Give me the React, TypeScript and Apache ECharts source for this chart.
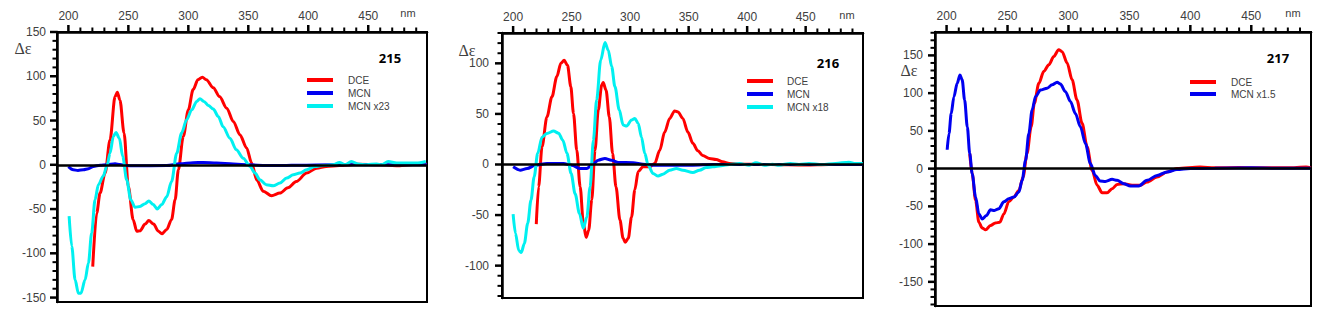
import React, { useEffect, useRef } from "react";
import * as echarts from "echarts";

// ---------- tick values ----------
const xMajor = [200, 250, 300, 350, 400, 450];
const xMinor = [210, 220, 230, 240, 260, 270, 280, 290, 310, 320, 330, 340, 360, 370, 380, 390, 410, 420, 430, 440, 460, 470, 480, 490];
const yMajor1 = [-150, -100, -50, 0, 50, 100, 150];
const yMinor1 = [-140, -130, -120, -110, -90, -80, -70, -60, -40, -30, -20, -10, 10, 20, 30, 40, 60, 70, 80, 90, 110, 120, 130, 140];
const yMajor2 = [-100, -50, 0, 50, 100];
const yMinor2 = [-130, -120, -110, -90, -80, -70, -60, -40, -30, -20, -10, 10, 20, 30, 40, 60, 70, 80, 90, 110, 120, 130];
const yMajor3 = [-150, -100, -50, 0, 50, 100, 150];
const yMinor3 = [-180, -170, -160, -140, -130, -120, -110, -90, -80, -70, -60, -40, -30, -20, -10, 10, 20, 30, 40, 60, 70, 80, 90, 110, 120, 130, 140, 160, 170, 180];

// ---------- panel 215 ----------
const p1DceX = [220.3, 223.6, 226.4, 230.6, 234.7, 238.9, 240.8, 243, 246.4, 250, 254, 257, 259.7, 264, 267, 271, 275, 278, 282, 286, 289, 291.7, 295.8, 300, 304, 308, 311.7, 315, 320.8, 326, 332, 337.5, 343, 348.6, 352.8, 357, 362.5, 369.4, 376.4, 383, 390, 398.6, 407, 415, 426, 440, 460, 475, 490, 499];
const p1DceY = [-115, -54.6, -32, -9.4, 28, 77, 82, 73, 36, -24.5, -62, -75, -74.6, -67, -63, -67, -75, -78, -73, -62, -39.5, -5.6, 32, 62, 85, 96, 99, 96, 87, 77, 64, 49, 34, 19, 2, -17, -30, -35, -32, -26, -19, -9.4, -3.8, -1.9, -0.8, 0.5, 0, -1, 0.5, 0.5];
const p1McnX = [200, 204, 208, 212.5, 216.7, 220.8, 226.4, 232, 238.9, 243, 248.6, 254, 282, 293, 304, 312.5, 323.6, 337.5, 351, 365, 379, 393, 420, 460, 499];
const p1McnY = [-2, -5.6, -6.4, -5.6, -4.5, -1.9, -0.4, 0, 1.1, 0.4, -0.8, -1.1, -0.8, 1.1, 2.3, 2.6, 1.9, 0.8, 0, -0.8, -0.8, -0.4, 0, 0, 0];
const p1McnScX = [200.6, 202.8, 205.6, 208.3, 210.5, 213.9, 216.7, 219.4, 222.2, 225, 229, 232, 234.7, 237.5, 239.7, 242.5, 245.3, 248.6, 252, 255.6, 259.7, 263.9, 267, 270.8, 274, 277.8, 282, 286, 290.3, 294.4, 298.6, 302.8, 307, 309.7, 313, 316.7, 320.8, 325, 329, 334.7, 340, 345.8, 351.4, 355.6, 359.7, 365, 370.8, 376.4, 382, 387.5, 393, 398.6, 405.6, 412.5, 420.8, 426, 430.6, 436, 441.7, 448.6, 457, 461, 466.7, 473.6, 482, 490, 498];
const p1McnScY = [-58, -92, -130, -145, -145, -130, -111, -77, -39.5, -22.6, -13, -2, 13, 32, 36.5, 30, 9.4, -17, -39.5, -48, -47, -44, -41, -45, -50, -45, -36, -19, 13, 36, 51, 62, 71.6, 74.6, 71.6, 67, 63, 54.6, 43, 30, 17, 7.5, -1.9, -9.4, -17, -22.6, -23.7, -20.7, -15, -11.3, -9.4, -5.6, -1.9, -0.8, 0, 2.6, 0, 3.8, 0.8, 0, 1, 0, 3.8, 1.9, 1.9, 1.9, 3.8];

// ---------- panel 216 ----------
const p2DceX = [219.8, 221.8, 224.7, 228.9, 233.2, 237.4, 240.8, 243.6, 246.5, 249.3, 251.6, 254.4, 257.3, 260, 262.4, 264.6, 267.2, 270, 272.8, 275.7, 277, 279.4, 282.2, 285, 287.9, 291.3, 294, 295.8, 298.4, 301.2, 304, 306.9, 311, 316.8, 321, 325.3, 329.5, 333.8, 338, 340.9, 345, 349.4, 353.6, 357.9, 362, 367.8, 373.5, 379, 384.8, 393.3, 420, 450, 470, 499];
const p2DceY = [-59, -22, 17.5, 47, 67, 87, 100, 103, 98, 77, 50.5, 14, -22, -58, -72, -65, -35, 14, 54, 78.5, 81, 73.6, 47, 11, -22, -55, -73, -77, -73, -52, -25, -7, -2.3, -2.3, 1, 14, 32, 45.5, 53, 52, 45.5, 32, 21, 13.5, 9, 6, 5, 2.6, 1, 0.3, 0, -0.5, 0, 0];
const p2McnX = [200, 206, 212, 219, 229, 243, 250, 257.3, 263, 267, 272.8, 278.5, 284, 290, 302.6, 311, 322.4, 336.6, 353.6, 370.6, 420, 499];
const p2McnY = [-2.3, -5.6, -4, -0.7, 1, 1, -0.7, -4, -4, -0.7, 4.3, 6, 4.3, 2, 1.7, 0.3, -0.7, -0.7, -0.7, 0, 0, 0];
const p2McnScX = [200, 202, 204.8, 207, 209.6, 212.5, 215.3, 218, 221, 224.7, 228.9, 234.6, 238.8, 242.5, 246, 249.6, 253, 256.7, 260, 263, 265.8, 268.6, 271.4, 274.8, 278.5, 281.3, 284.2, 287, 290.7, 294, 297, 301.2, 304, 306.9, 309.7, 312.5, 315.4, 319.6, 323.9, 328, 333.8, 339.5, 345, 353.6, 359.3, 365, 370.6, 377.7, 384.8, 393.3, 401.8, 407.5, 414.6, 421.7, 427.3, 437, 444.3, 452.8, 464, 475.5, 487, 492.5, 498.8];
const p2McnScY = [-49, -68, -85, -87, -78, -58, -35, -12, 11, 27, 30.7, 33, 31, 24, 11, -9, -29, -48.5, -63, -52, -22, 24, 64, 103, 120.5, 113, 97, 77, 54, 39, 38, 44, 45.5, 40.6, 27, 11, -0.7, -9, -11.5, -9.6, -5.6, -4, -5.6, -8, -5.6, -3, -2.3, -1.3, 0, 1, -0.7, 1.7, -0.7, 0.3, -0.7, 1, 0, 1, 0, 1, 2.3, 1, 1];

// ---------- panel 217 ----------
const p3DceX = [219, 221, 223.8, 226.5, 229.2, 232, 236, 240, 243.7, 247, 251, 255.2, 259.3, 262.8, 266, 269.4, 272, 275.7, 279.8, 283.9, 288, 292, 294.8, 298.9, 303, 307, 311.2, 315.3, 319.4, 323.5, 327.6, 331.7, 335.8, 339.9, 345.4, 352.2, 359, 364.5, 372.7, 380.9, 389, 408, 420, 440, 460, 480, 495, 499];
const p3DceY = [20, -6.7, -42, -71, -78.6, -81, -75.5, -72, -71, -60, -44, -37.7, -29, -11, 20, 55.5, 86.5, 113, 129, 137.6, 148.7, 157.6, 155, 140, 117.6, 91, 60, 29, -2.2, -22, -32, -32, -26.6, -21, -20, -22, -22, -17.7, -11, -4.4, 0, 2, 1, 1.5, 1, 1, 2, 1];
const p3McnX = [200.5, 202, 203.8, 206, 208.7, 211, 212.8, 214.8, 217, 219, 221, 223.8, 226.5, 229.2, 232.8, 236, 239.3, 242.9, 247, 251, 255.2, 259.3, 262, 264.8, 267.5, 270.2, 273, 277, 282.5, 286.6, 290.7, 293.4, 297.5, 301.6, 305.7, 309.8, 314, 318, 322, 326, 330.3, 335.8, 339.9, 345.4, 350.8, 357.7, 364.5, 372.7, 380.9, 389, 400, 420, 450, 470, 499];
const p3McnY = [25, 46.6, 73, 95, 113, 124, 117.6, 91, 55.5, 20, -6.7, -37.7, -60, -66.6, -62, -54.6, -55.5, -53, -44, -40, -37.7, -31, -15.5, 11, 46.6, 77.7, 95.4, 104, 106.5, 111, 114.5, 112, 102, 89, 73, 55.5, 33, 6.7, -9, -16.4, -16.9, -14.2, -15.5, -20, -23, -23, -15.5, -9, -4.4, -1.3, 0, 0.5, 1, 0.5, 0.5];

const RED = "#ff0000";
const BLUE = "#0000f0";
const CYAN = "#00f0f0";
const TXT = "#404040";
const FONT = "'Liberation Sans', Arial, sans-serif";
const X_MIN = 190.5;
const X_MAX = 499;

const zip = (xs: number[], ys: number[]) => xs.map((x, i) => [x, ys[i]]);

function axesFor(g: number, yMin: number, yMax: number, yMajor: number[], yMargin: number) {
  const common = { type: "value", gridIndex: g, splitLine: { show: false } };
  const x = {
    ...common, position: "top", min: X_MIN, max: X_MAX,
    axisLine: { show: true, onZero: false, lineStyle: { color: "#000", width: 2.5 } },
    axisTick: { show: false },
    axisLabel: { show: true, customValues: xMajor, margin: 10, fontSize: 12, color: TXT, fontFamily: FONT },
  };
  const y = {
    ...common, position: "left", min: yMin, max: yMax,
    axisLine: { show: true, onZero: false, lineStyle: { color: "#000", width: 2.5 } },
    axisTick: { show: false },
    axisLabel: { show: true, customValues: yMajor, margin: yMargin, fontSize: 12, color: TXT, fontFamily: FONT },
  };
  return { x, y };
}

function line(name: string, g: number, xs: number[], ys: number[], color: string, z: number, zero = false) {
  const s: any = {
    type: "line", name, xAxisIndex: g, yAxisIndex: g,
    data: zip(xs, ys), symbol: "none", showSymbol: false,
    smooth: 0.3, smoothMonotone: "x",
    lineStyle: { color, width: 3 }, itemStyle: { color }, z,
  };
  if (zero) {
    s.markLine = {
      silent: true, symbol: "none", label: { show: false },
      lineStyle: { color: "#000", width: 2.5, type: "solid" },
      data: [{ yAxis: 0 }],
    };
  }
  return s;
}

function legendFor(left: number, top: number, names: string[], lh: number, pad: number) {
  return {
    left, top, orient: "vertical", itemWidth: 26, itemHeight: 4, itemGap: 0, icon: "rect",
    data: names, selectedMode: false,
    textStyle: { fontSize: 10, lineHeight: lh, color: TXT, fontFamily: FONT, padding: [0, 0, 0, pad] },
  };
}

function txt(x: number, y: number, text: string, font: string, color = TXT) {
  return { type: "text", x, y, silent: true, z: 10, style: { text, font, fill: color, textAlign: "center", textVerticalAlign: "middle" } };
}

export default function App() {
  const ref = useRef<HTMLDivElement>(null);
  useEffect(() => {
    if (!ref.current) return;
    const chart = echarts.init(ref.current, null, { renderer: "svg" });
    const panels = [
      { yMin: -155, yMax: 150, yMajor: yMajor1, yMinor: yMinor1, margin: 11 },
      { yMin: -132, yMax: 130, yMajor: yMajor2, yMinor: yMinor2, margin: 13 },
      { yMin: -182, yMax: 181, yMajor: yMajor3, yMinor: yMinor3, margin: 12 },
    ];
    const axes = panels.map((p, g) => axesFor(g, p.yMin, p.yMax, p.yMajor, p.margin));
    const option: any = {
      animation: false,
      backgroundColor: "#fff",
      grid: [
        { left: 57, top: 32, width: 370, height: 270, show: true, borderColor: "#000", borderWidth: 2, backgroundColor: "transparent" },
        { left: 502, top: 33, width: 361, height: 265, show: true, borderColor: "#000", borderWidth: 2, backgroundColor: "transparent" },
        { left: 935, top: 32, width: 376, height: 274, show: true, borderColor: "#000", borderWidth: 2, backgroundColor: "transparent" },
      ],
      xAxis: axes.map((a) => a.x),
      yAxis: axes.map((a) => a.y),
      legend: [
        legendFor(302, 68.5, ["DCE", "MCN", "MCN x23"], 13, 10),
        legendFor(742, 69.5, ["DCE", "MCN", "MCN x18"], 13, 9),
        legendFor(1185, 71, ["DCE", "MCN x1.5"], 12, 10),
      ],
      series: [
        line("DCE", 0, p1DceX, p1DceY, RED, 2, true),
        line("MCN", 0, p1McnX, p1McnY, BLUE, 3),
        line("MCN x23", 0, p1McnScX, p1McnScY, CYAN, 4),
        line("DCE", 1, p2DceX, p2DceY, RED, 2, true),
        line("MCN", 1, p2McnX, p2McnY, BLUE, 3),
        line("MCN x18", 1, p2McnScX, p2McnScY, CYAN, 4),
        line("DCE", 2, p3DceX, p3DceY, RED, 2, true),
        line("MCN x1.5", 2, p3McnX, p3McnY, BLUE, 3),
      ],
    };
    chart.setOption(option);

    // tick marks placed through each grid's own scales
    const ticks: any[] = [];
    const tick = (x1: number, y1: number, x2: number, y2: number, w: number) =>
      ticks.push({ type: "line", silent: true, z: 10, shape: { x1, y1, x2, y2 }, style: { stroke: "#000", lineWidth: w } });
    panels.forEach((p, g) => {
      const finder = { gridIndex: g };
      xMajor.forEach((v) => { const c = chart.convertToPixel(finder, [v, p.yMax]) as number[]; tick(c[0], c[1], c[0], c[1] - 7, 2.5); });
      xMinor.forEach((v) => { const c = chart.convertToPixel(finder, [v, p.yMax]) as number[]; tick(c[0], c[1], c[0], c[1] - 4.5, 2); });
      p.yMajor.forEach((v) => { const c = chart.convertToPixel(finder, [X_MIN, v]) as number[]; tick(c[0], c[1], c[0] - 7, c[1], 2.5); });
      p.yMinor.forEach((v) => { const c = chart.convertToPixel(finder, [X_MIN, v]) as number[]; tick(c[0], c[1], c[0] - 4.5, c[1], 2); });
    });

    chart.setOption({
      graphic: [
        txt(23, 48, "Δε", "16px 'Liberation Serif', serif"),
        txt(467, 50, "Δε", "16px 'Liberation Serif', serif"),
        txt(909, 70, "Δε", "16px 'Liberation Serif', serif"),
        txt(408, 13, "nm", "11px " + FONT),
        txt(847, 15, "nm", "11px " + FONT),
        txt(1293, 13, "nm", "11px " + FONT),
        txt(390, 58, "215", "bold 13px 'Open Sans', sans-serif", "#000"),
        txt(828, 63, "216", "bold 13px 'Open Sans', sans-serif", "#000"),
        txt(1278, 58, "217", "bold 13px 'Open Sans', sans-serif", "#000"),
        ...ticks,
      ],
    });
    return () => chart.dispose();
  }, []);
  return <div ref={ref} style={{ position: "absolute", left: 0, top: 0, width: 1323, height: 322 }} />;
}
